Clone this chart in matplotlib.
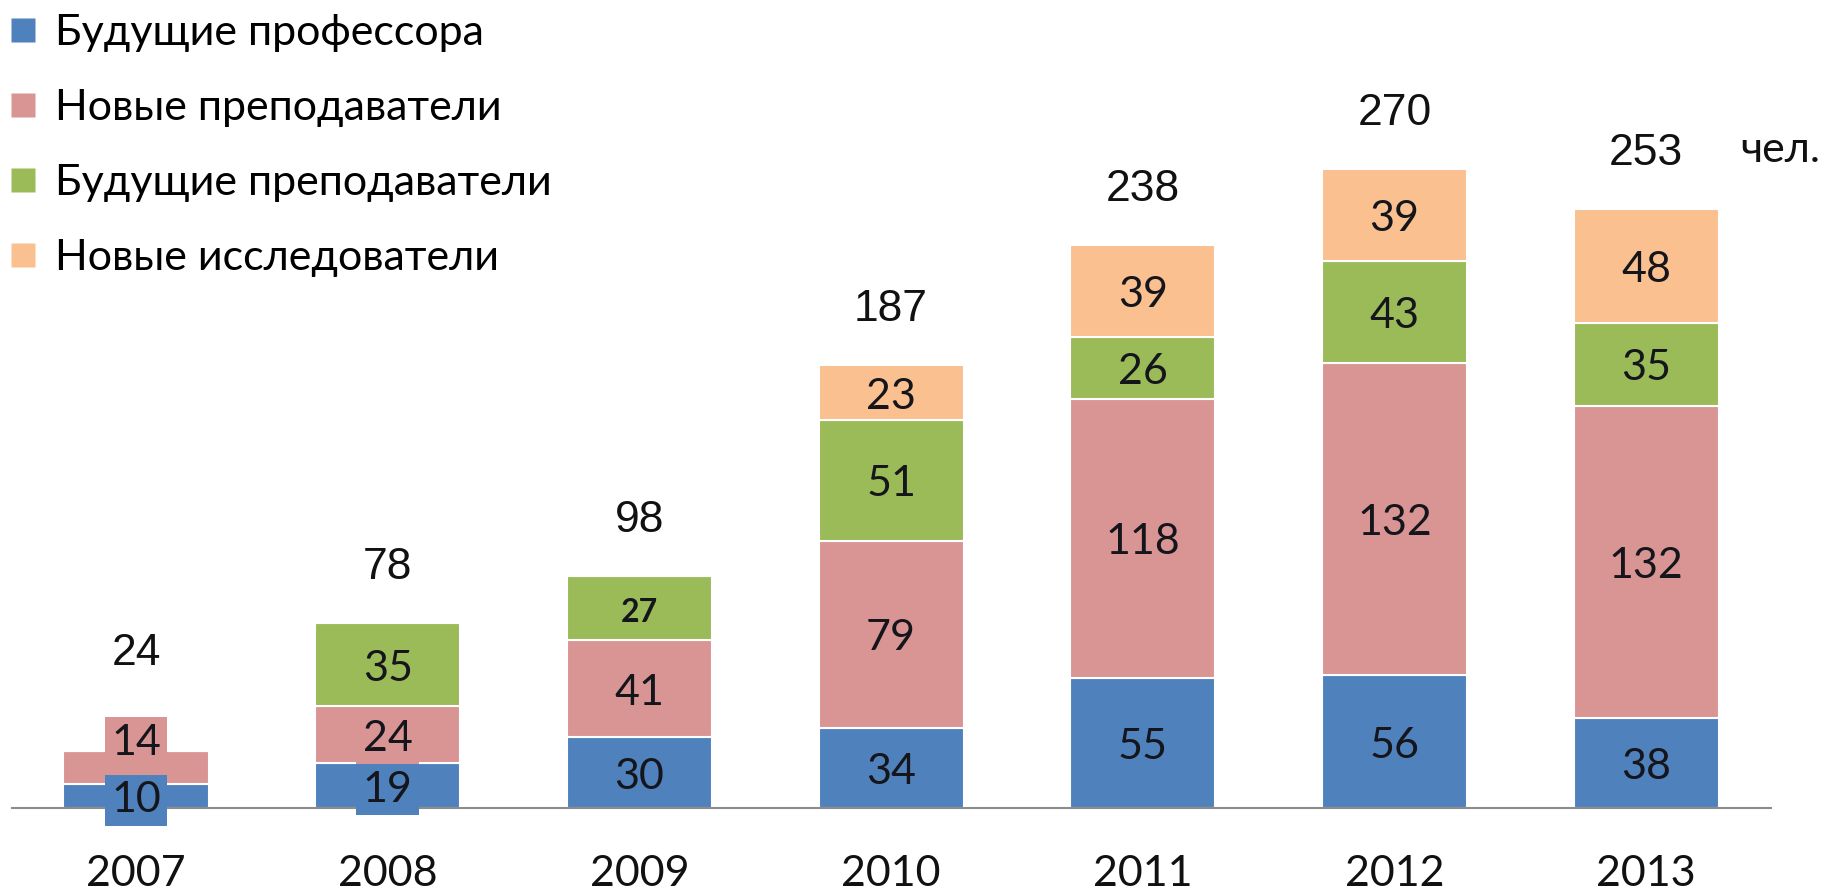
import matplotlib.pyplot as plt
from matplotlib.lines import Line2D

years = ['2007', '2008', '2009', '2010', '2011', '2012', '2013']
series_names = ['Будущие профессора', 'Новые преподаватели',
                'Будущие преподаватели', 'Новые исследователи']
future_prof = [10, 19, 30, 34, 55, 56, 38]
new_teachers = [14, 24, 41, 79, 118, 132, 132]
future_teachers = [0, 35, 27, 51, 26, 43, 35]
new_research = [0, 0, 0, 23, 39, 39, 48]
totals = [24, 78, 98, 187, 238, 270, 253]

colors = ['#4F81BD', '#D99594', '#9BBB59', '#FAC090']
series = [future_prof, new_teachers, future_teachers, new_research]

fig = plt.figure(figsize=(18.27, 8.92), dpi=100)
ax = fig.add_axes([12 / 1827, 84 / 892, 1759 / 1827, 808 / 892])

x = list(range(len(years)))
bottom = [0] * len(years)
for k, vals in enumerate(series):
    ax.bar(x, vals, width=0.577, bottom=bottom, color=colors[k],
           edgecolor='white', linewidth=1.5, zorder=2)
    for i, v in enumerate(vals):
        if v == 0:
            continue
        dy = -3
        if i == 0 and k == 1:
            dy = 18  # excel pushed this one up
        bold = (i == 2 and k == 2)
        # small early bars: labels got filled boxes that stick out
        box = None
        if i < 2:
            box = dict(boxstyle='square,pad=0.15', fc=colors[k], ec='none')
        ax.annotate(str(v), (i, bottom[i] + v / 2), xytext=(0, dy),
                    textcoords='offset points', ha='center', va='center',
                    fontsize=23 if bold else 31,
                    fontweight='bold' if bold else 'normal',
                    family='Lato', color='#15151c', zorder=4, bbox=box)
    bottom = [b + v for b, v in zip(bottom, vals)]

for i, t in enumerate(totals):
    pad = 70 if i == 0 else 40
    ax.annotate(str(t), (i, t), xytext=(0, pad), textcoords='offset points',
                ha='center', va='center', fontsize=32,
                family='Liberation Sans', color='#111111')

fig.text(1780 / 1827, 1 - 150 / 892, 'чел.', ha='center', va='center',
         fontsize=31, family='Lato', color='#111111')

ax.set_xlim(-0.493, 6.496)
ax.set_ylim(0, 341.4)
ax.set_xticks(x)
ax.set_xticklabels(years, fontsize=31, family='Lato', color='#111111')
ax.tick_params(axis='x', length=0, pad=34)
ax.set_yticks([])
for s in ['top', 'left', 'right']:
    ax.spines[s].set_visible(False)
ax.spines['bottom'].set_color('#8c8c8c')
ax.spines['bottom'].set_linewidth(1.5)

handles = [Line2D([], [], marker='s', linestyle='none', markersize=17,
                  markerfacecolor=c, markeredgecolor='none') for c in colors]
fig.legend(handles, series_names, loc='upper left',
           bbox_to_anchor=(0.002, 0.992), frameon=False,
           prop={'family': 'Lato', 'size': 31},
           handlelength=0.6, handletextpad=0.45, labelspacing=0.86,
           borderaxespad=0.0, borderpad=0.15)

plt.savefig('out.png', dpi=100)
plt.close()
